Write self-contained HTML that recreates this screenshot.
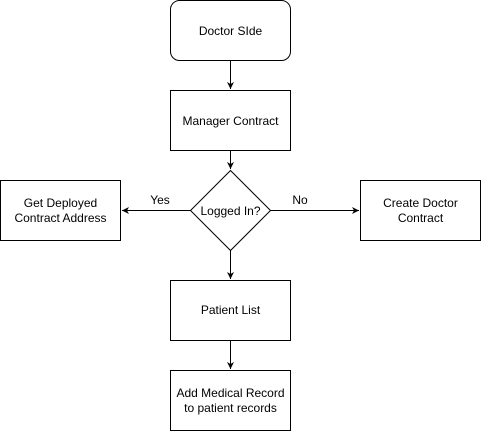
<!DOCTYPE html>
<html><head><style>body{margin:0;background:#fff}svg{display:block}text{font-family:"Liberation Sans",sans-serif;font-size:12px;fill:#000}</style></head><body>
<svg width="481" height="431" viewBox="0 0 481 431" xmlns="http://www.w3.org/2000/svg">
<defs><marker id="a" markerWidth="8" markerHeight="8" refX="7" refY="4" orient="auto" markerUnits="userSpaceOnUse"><path d="M0,0.5 L7,4 L0,7.5 L2,4 Z" fill="#000"/></marker></defs>
<g fill="#fff" stroke="#000" stroke-width="1">
<rect x="170.5" y="0.5" width="120" height="60" rx="9"/>
<rect x="170.5" y="90.5" width="120" height="60"/>
<path d="M230.5,170.5 L270.5,210.5 L230.5,250.5 L190.5,210.5 Z"/>
<rect x="0.5" y="180.5" width="120" height="60"/>
<rect x="360.5" y="180.5" width="120" height="60"/>
<rect x="170.5" y="280.5" width="120" height="60"/>
<rect x="170.5" y="370.5" width="120" height="60"/>
</g>
<g stroke="#000" fill="none" marker-end="url(#a)">
<line x1="230.5" y1="60.5" x2="230.5" y2="89"/>
<line x1="230.5" y1="150.5" x2="230.5" y2="169"/>
<line x1="190.5" y1="210.5" x2="122" y2="210.5"/>
<line x1="270.5" y1="210.5" x2="359" y2="210.5"/>
<line x1="230.5" y1="250.5" x2="230.5" y2="279"/>
<line x1="230.5" y1="340.5" x2="230.5" y2="369"/>
</g>
<g text-anchor="middle">
<text x="230.5" y="35">Doctor SIde</text>
<text x="230.5" y="125">Manager Contract</text>
<text x="230.5" y="215">Logged In?</text>
<text x="60.5" y="207">Get Deployed</text>
<text x="60.5" y="222">Contract Address</text>
<text x="420.5" y="207">Create Doctor</text>
<text x="420.5" y="222">Contract</text>
<text x="230.5" y="314">Patient List</text>
<text x="230.5" y="397">Add Medical Record</text>
<text x="230.5" y="412">to patient records</text>
<text x="160" y="204">Yes</text>
<text x="300" y="204">No</text>
</g>
</svg>
</body></html>
